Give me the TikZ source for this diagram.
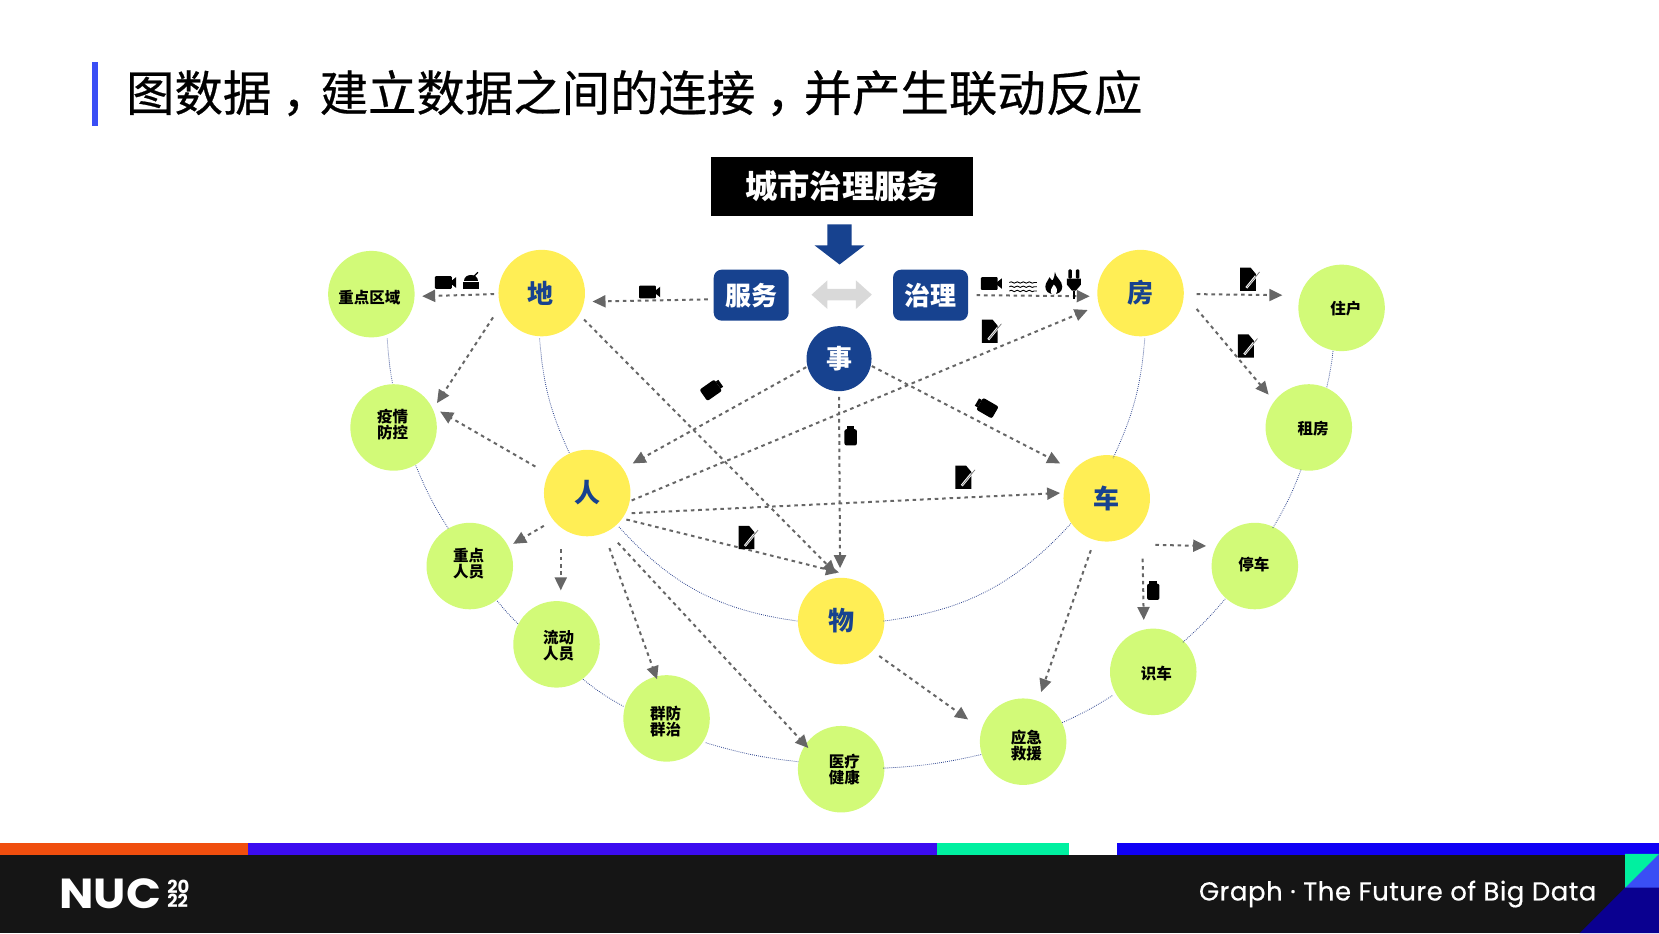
\documentclass[tikz,border=0pt]{standalone}
\usepackage{fontspec}
\setmainfont{Noto Sans CJK SC}
\newfontfamily\titlefont[FakeBold=.5]{Noto Sans CJK SC}
\newfontfamily\latinfont{Poppins}
\newfontfamily\sloganfont[FakeBold=.5,LetterSpace=2]{Poppins}
\usetikzlibrary{arrows.meta,decorations.pathmorphing}

\definecolor{navyblue}{HTML}{17428F}
\definecolor{nodeyellow}{HTML}{FFEE55}
\definecolor{leafgreen}{HTML}{D2FA78}
\definecolor{flowgray}{HTML}{666666}
\definecolor{arcblue}{HTML}{2F4690}
\definecolor{footerblack}{HTML}{151515}
\definecolor{accentblue}{HTML}{3A4EF5}
\definecolor{stripeorange}{HTML}{F04E0E}
\definecolor{stripeviolet}{HTML}{3C0CF0}
\definecolor{stripeteal}{HTML}{00F0A0}
\definecolor{stripeblue}{HTML}{1000F5}
\definecolor{cornerblue}{HTML}{0A0090}

\newcommand{\cm}{\hspace{.22em}，\hspace{-.22em}}

\tikzset{
  hub/.style={circle,fill=nodeyellow,minimum size=86.5pt,inner sep=0pt,outer sep=0pt,
    text=navyblue,font=\fontsize{26}{26}\selectfont\bfseries},
  leaf/.style={circle,fill=leafgreen,minimum size=86.5pt,inner sep=0pt,outer sep=0pt},
  leaftext/.style={inner sep=0pt,align=center,font=\fontsize{15.5}{16}\selectfont\bfseries},
  tagbox/.style={rectangle,rounded corners=8pt,fill=navyblue,minimum width=75pt,minimum height=51pt,
    inner sep=0pt,outer sep=0pt,text=white,font=\fontsize{26}{26}\selectfont\bfseries},
  flow/.style={draw=flowgray,line width=2pt,dash pattern=on 3.6pt off 3.8pt,
    -{Triangle[length=13pt,width=12pt,fill=flowgray]}},
  arcline/.style={draw=arcblue,line width=.8pt,dash pattern=on .8pt off 1.2pt},
  camicon/.pic={
    \fill[rounded corners=1pt] (-10,-6) rectangle (6,6);
    \fill (5,-1) -- (10,-5) -- (10,5) -- (5,1) -- cycle;
  },
  domeicon/.pic={
    \fill (-8,2) rectangle (8,9);
    \fill (-7,1) .. controls (-7,-7) and (7,-7) .. (7,1) -- cycle;
    \draw[line width=1.2pt] (3,-4) -- (7,-8);
  },
  docicon/.pic={
    \fill (-9,-11) -- (1,-11) -- (6,-5) -- (6,11) -- (-9,11) -- cycle;
    \draw[white,line width=2.4pt] (-3,8) -- (6,-3);
    \draw[black!55,line width=.7pt] (-2.5,7.5) -- (9.5,-7);
  },
  jaricon/.pic={
    \fill (-4,-10) rectangle (4,-7);
    \fill[rounded corners=2pt] (-6.5,-7) rectangle (6.5,10);
  },
  waveicon/.pic={
    \draw[line width=.9pt,decorate,decoration={snake,amplitude=.7pt,segment length=6pt}] (-13,-4) -- (13,-4);
    \draw[line width=.9pt,decorate,decoration={snake,amplitude=.7pt,segment length=6pt}] (-13,0) -- (13,0);
    \draw[line width=.9pt,decorate,decoration={snake,amplitude=.7pt,segment length=6pt}] (-13,4) -- (13,4);
  },
  flameicon/.pic={
    \fill (1,-11) .. controls (2,-5) and (8,-3) .. (8,3) .. controls (8,8) and (4,10) .. (0,10)
      .. controls (-5,10) and (-8,7) .. (-8,3) .. controls (-8,-1) and (-5,-3) .. (-4,-6)
      .. controls (-3,-4) and (-2,-3) .. (-1,-3) .. controls (0,-5) and (1,-8) .. (1,-11) -- cycle;
    \fill[white] (0,1) .. controls (3,4) and (4,6) .. (2,10) -- (-2,10) .. controls (-4,7) and (-2,4) .. (0,1) -- cycle;
  },
  plugicon/.pic={
    \fill[rounded corners=1pt] (-5.5,-14) rectangle (-2,-5);
    \fill[rounded corners=1pt] (2,-14) rectangle (5.5,-5);
    \fill (-7,-5) -- (7,-5) -- (7,1) -- (2,7) -- (-2,7) -- (-7,1) -- cycle;
    \fill (-1.2,7) rectangle (1.2,15);
  }
}

\begin{document}
\begin{tikzpicture}[x=1.058pt,y=-1.058pt]
  \useasboundingbox (0,0) rectangle (1568,881.9);

  % Title
  \fill[accentblue] (87,59) rectangle (93,119);
  \node[anchor=west,inner sep=0pt,font=\titlefont\fontsize{48.4}{50}\selectfont] (title) at (119,88) {图数据\cm 建立数据之间的连接\cm 并产生联动反应};

  % Top banner
  \node[fill=black,text=white,minimum width=262.4pt,minimum height=59pt,inner sep=0pt,outer sep=0pt,
    font=\fontsize{32.3}{33}\selectfont\bfseries] (banner) at (796,176) {\raisebox{2.5pt}{城市治理服务}};
  \fill[navyblue] (782,212) -- (805,212) -- (805,232) -- (817,232) -- (793.5,250) -- (770,232) -- (782,232) -- cycle;
  \fill[black!15] (767,278.5) -- (782,265) -- (782,273) -- (809,273) -- (809,265) -- (824,278.5) -- (809,292) -- (809,284) -- (782,284) -- (782,292) -- cycle;

  % Hubs
  \node[hub] (di) at (512,277) {\hspace{-3pt}地};
  \node[hub] (fang) at (1078,277) {房};
  \node[hub] (ren) at (555,466) {人};
  \node[hub] (che) at (1046,471) {车};
  \node[hub] (wu) at (795,587) {物};
  \node[circle,fill=navyblue,minimum size=65pt,inner sep=0pt,outer sep=0pt,text=white,
    font=\fontsize{26}{26}\selectfont\bfseries] (shi) at (793,339) {事};
  \node[tagbox] (fuwu) at (710,279) {服务};
  \node[tagbox] (zhili) at (879.5,279) {治理};

  % Leaves
  \node[leaf] (quyu) at (351,278) {};
  \node[leaf] (yiqing) at (372,404) {};
  \node[leaf] (zhongdian) at (444,535) {};
  \node[leaf] (liudong) at (526,609) {};
  \node[leaf] (qunfang) at (630,679) {};
  \node[leaf] (yiliao) at (795,727) {};
  \node[leaf] (yingji) at (967,701) {};
  \node[leaf] (shiche) at (1090,635) {};
  \node[leaf] (tingche) at (1186,535) {};
  \node[leaf] (zufang) at (1237,404) {};
  \node[leaf] (zhuhu) at (1268,291) {};

  % Leaf labels
  \node[leaftext] (quyutext) at ([shift={(-2,3)}]quyu.center) {重点区域};
  \node[leaftext] (yiqingtext) at ([shift={(-1,-3)}]yiqing.center) {疫情\\防控};
  \node[leaftext] (zhongdiantext) at ([shift={(-1,-2)}]zhongdian.center) {重点\\人员};
  \node[leaftext] (liudongtext) at ([shift={(2,1)}]liudong.center) {流动\\人员};
  \node[leaftext] (qunfangtext) at ([shift={(-1,3)}]qunfang.center) {群防\\群治};
  \node[leaftext] (yiliaotext) at ([shift={(3,0)}]yiliao.center) {医疗\\健康};
  \node[leaftext] (yingjitext) at ([shift={(3,4)}]yingji.center) {应急\\救援};
  \node[leaftext] (shichetext) at ([shift={(3,2)}]shiche.center) {识车};
  \node[leaftext] (tingchetext) at ([shift={(-1,-1)}]tingche.center) {停车};
  \node[leaftext] (zufangtext) at ([shift={(4,1)}]zufang.center) {租房};
  \node[leaftext] (zhuhutext) at ([shift={(4,1)}]zhuhu.center) {住户};

  % Dotted arcs
  \draw[arcline] ([shift={(15,42)}]quyu.center) to[bend right=3] ([shift={(-1,-41)}]yiqing.center);
  \draw[arcline] ([shift={(21,36)}]yiqing.center) to[bend right=5] ([shift={(-20,-35)}]zhongdian.center);
  \draw[arcline] ([shift={(26,33)}]zhongdian.center) to[bend right=3] ([shift={(-36,-19)}]liudong.center);
  \draw[arcline] ([shift={(25,33)}]liudong.center) to[bend right=5] ([shift={(-40,-11)}]qunfang.center);
  \draw[arcline] ([shift={(37,23)}]qunfang.center) to[bend right=5] ([shift={(-40,-7)}]yiliao.center);
  \draw[arcline] ([shift={(40,-1)}]yiliao.center) to[bend right=5] ([shift={(-39,12)}]yingji.center);
  \draw[arcline] ([shift={(37,-18)}]yingji.center) to[bend right=4] ([shift={(-38,22)}]shiche.center);
  \draw[arcline] ([shift={(28,-28)}]shiche.center) to[bend right=4] ([shift={(-28,31)}]tingche.center);
  \draw[arcline] ([shift={(17,-36)}]tingche.center) to[bend right=5] ([shift={(-7,39)}]zufang.center);
  \draw[arcline] ([shift={(17,-38)}]zufang.center) to[bend right=3] ([shift={(-8,40)}]zhuhu.center);
  \draw[arcline] ([shift={(-2,43)}]di.center) to[bend right=10] ([shift={(-17,-38)}]ren.center);
  \draw[arcline] ([shift={(4,43)}]fang.center) to[bend left=10] ([shift={(6,-38)}]che.center);
  \draw[arcline] ([shift={(30,32)}]ren.center) to[bend right=20] ([shift={(-41,0)}]wu.center);
  \draw[arcline] ([shift={(40,0)}]wu.center) to[bend right=20] ([shift={(-34,24)}]che.center);

  % Arrows
  \draw[flow] ([shift={(-41,4)}]fuwu.center) -- ([shift={(48,8)}]di.center);
  \draw[flow] ([shift={(-45,1)}]di.center) -- ([shift={(48,2)}]quyu.center);
  \draw[flow] ([shift={(-46,23)}]di.center) -- ([shift={(41,-23)}]yiqing.center);
  \draw[flow] ([shift={(40,25)}]di.center) -- ([shift={(-5,-45)}]wu.center);
  \draw[flow] ([shift={(-49,-25)}]ren.center) -- ([shift={(44,-15)}]yiqing.center);
  \draw[flow] ([shift={(-31,8)}]shi.center) -- ([shift={(43,-28)}]ren.center);
  \draw[flow] ([shift={(31,7)}]shi.center) -- ([shift={(-44,-33)}]che.center);
  \draw[flow] ([shift={(0,36)}]shi.center) -- ([shift={(-1,-50)}]wu.center);
  \draw[flow] ([shift={(42,7)}]ren.center) -- ([shift={(-50,16)}]fang.center);
  \draw[flow] ([shift={(42,19)}]ren.center) -- ([shift={(-44,-5)}]che.center);
  \draw[flow] ([shift={(37,25)}]ren.center) -- ([shift={(-2,-46)}]wu.center);
  \draw[flow] ([shift={(-41,31)}]ren.center) -- ([shift={(41,-21)}]zhongdian.center);
  \draw[flow] ([shift={(-25,53)}]ren.center) -- ([shift={(4,-51)}]liudong.center);
  \draw[flow] ([shift={(21,52)}]ren.center) -- ([shift={(-9,-37)}]qunfang.center);
  \draw[flow] ([shift={(29,47)}]ren.center) -- ([shift={(-31,-20)}]yiliao.center);
  \draw[flow] ([shift={(43.5,0)}]zhili.center) -- ([shift={(-48,3)}]fang.center);
  \draw[flow] ([shift={(53,1)}]fang.center) -- ([shift={(-56,-12)}]zhuhu.center);
  \draw[flow] ([shift={(53,15)}]fang.center) -- ([shift={(-38,-31)}]zufang.center);
  \draw[flow] ([shift={(46,44)}]che.center) -- ([shift={(-46,-19)}]tingche.center);
  \draw[flow] ([shift={(34,57)}]che.center) -- ([shift={(-9,-49)}]shiche.center);
  \draw[flow] ([shift={(-15,49)}]che.center) -- ([shift={(17,-47)}]yingji.center);
  \draw[flow] ([shift={(36,33)}]wu.center) -- ([shift={(-52,-21)}]yingji.center);

  % Icons
  \pic at (421,267) {camicon};
  \pic[scale=.95] at (445,265) {domeicon};
  \pic at (614,276) {camicon};
  \pic at (937,268) {camicon};
  \pic at (967,271) {waveicon};
  \pic at (996,268) {flameicon};
  \pic[scale=.95] at (1015,268) {plugicon};
  \pic at (937,313) {docicon};
  \pic at (1181,264) {docicon};
  \pic at (1179,327) {docicon};
  \pic at (912,451) {docicon};
  \pic at (707,508) {docicon};
  \pic[rotate=-55] at (673,368) {jaricon};
  \pic[scale=.9] at (804,412) {jaricon};
  \pic[rotate=60] at (932,385) {jaricon};
  \pic[scale=.9] at (1090,558) {jaricon};

  % Footer
  \fill[footerblack] (0,808) rectangle (1568,881.9);
  \fill[stripeorange] (0,797) rectangle (234,808);
  \fill[stripeviolet] (234,797) rectangle (886,808);
  \fill[stripeteal] (886,797) rectangle (1010,808);
  \fill[stripeblue] (1056,797) rectangle (1568,808);
  \fill[accentblue] (1536,807) rectangle (1568,839);
  \fill[stripeteal] (1536,807) -- (1568,807) -- (1536,839) -- cycle;
  \fill[cornerblue] (1536,839) -- (1568,839) -- (1568,881.9) -- (1493,881.9) -- cycle;

  \node[anchor=west,inner sep=0pt,text=white,font=\latinfont\fontsize{42}{42}\selectfont\bfseries] (logo) at (56,845) {\scalebox{1.09}[1]{NUC}};
  \node[anchor=west,inner sep=0pt,text=white,align=left,font=\latinfont\fontsize{18}{14}\selectfont\bfseries] (year) at (158,845) {20\\22};
  \node[anchor=west,inner sep=0pt,text=white,font=\sloganfont\fontsize{26}{26}\selectfont] (slogan) at (1133,845) {Graph · The Future of Big Data};
\end{tikzpicture}
\end{document}
